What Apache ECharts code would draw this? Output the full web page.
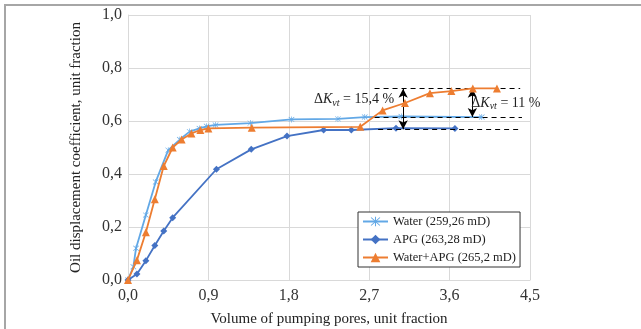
<!DOCTYPE html>
<html>
<head>
<meta charset="utf-8">
<script src="https://cdn.jsdelivr.net/npm/echarts@6/dist/echarts.min.js"></script>
<style>
  html, body { margin: 0; padding: 0; background: #fff; }
  #chart { width: 641px; height: 329px; }
</style>
</head>
<body>
<div id="chart"></div>
<script>
// --- data ---
const waterX = [0, 0.06, 0.09, 0.2, 0.31, 0.45, 0.58, 0.69, 0.8, 0.88, 0.98, 1.37, 1.83, 2.35, 2.65, 3.06, 3.96];
const waterY = [0, 0.05, 0.12, 0.245, 0.37, 0.49, 0.53, 0.56, 0.572, 0.58, 0.585, 0.592, 0.606, 0.608, 0.615, 0.617, 0.615];

const apgX = [0, 0.1, 0.2, 0.3, 0.4, 0.5, 0.99, 1.38, 1.78, 2.19, 2.5, 3.0, 3.66];
const apgY = [0, 0.023, 0.073, 0.13, 0.185, 0.235, 0.418, 0.493, 0.543, 0.566, 0.566, 0.573, 0.572];

const mixX = [0, 0.1, 0.2, 0.3, 0.4, 0.5, 0.6, 0.71, 0.81, 0.9, 1.385, 2.6, 2.85, 3.1, 3.38, 3.62, 3.86, 4.13];
const mixY = [0, 0.075, 0.18, 0.305, 0.43, 0.5, 0.53, 0.553, 0.566, 0.572, 0.575, 0.578, 0.64, 0.668, 0.705, 0.713, 0.723, 0.723];

const seriesNames = ['Water (259,26 mD)', 'APG (263,28 mD)', 'Water+APG (265,2 mD)'];

// annotation levels (orange max, water end, APG end) and where they are drawn
const levels = [0.722, 0.615, 0.569];
const levelFrom = [2.76, 2.76, 2.8];
const levelTo = [4.39, 4.41, 4.41];
const arrowX = [3.08, 3.855];
const deltaTexts = ['15,4 %', '11 %'];
const deltaPos = [[2.53, 0.68], [4.23, 0.668]];

const zip = (xs, ys) => xs.map((x, i) => [x, ys[i]]);
const comma = (v, d) => v.toFixed(d).replace('.', ',');

const serif = 'Liberation Serif, Times New Roman, serif';
const starPath = 'path://M9,0L11,0L11,20L9,20Z M1,2.4L2.4,1L19,17.6L17.6,19Z M17.6,1L19,2.4L2.4,19L1,17.6Z';

const dashed = (i) => [
  { coord: [levelFrom[i], levels[i]], symbol: 'none', lineStyle: { type: [5, 4], color: '#000', width: 1.2 } },
  { coord: [levelTo[i], levels[i]], symbol: 'none' }
];
const arrow = (x, yTop, yBot) => [
  { coord: [x, yTop], symbol: 'arrow', symbolSize: [7, 9], lineStyle: { type: 'solid', color: '#000', width: 1 } },
  { coord: [x, yBot], symbol: 'arrow', symbolSize: [7, 9] }
];

const richDelta = {
  a: { fontFamily: serif, fontSize: 14, color: '#222' },
  k: { fontFamily: serif, fontSize: 14, fontStyle: 'italic', color: '#222' },
  s: { fontFamily: serif, fontSize: 10, fontStyle: 'italic', color: '#222', padding: [7, 0, 0, 0] }
};

const chart = echarts.init(document.getElementById('chart'));

chart.setOption({
  animation: false,
  backgroundColor: '#fff',
  grid: { left: 128, right: 111, top: 15, bottom: 49, outerBoundsMode: 'none', containLabel: false },
  legend: {
    orient: 'vertical',
    left: 358,
    top: 212,
    itemWidth: 25,
    itemHeight: 12,
    itemGap: 5,
    padding: [3, 4, 3, 4],
    borderColor: '#333',
    borderWidth: 1,
    backgroundColor: '#fff',
    textStyle: { fontFamily: serif, fontSize: 12.5, color: '#222' },
    data: seriesNames
  },
  xAxis: {
    type: 'value',
    min: 0,
    max: 4.5,
    interval: 0.9,
    name: 'Volume of pumping pores, unit fraction',
    nameLocation: 'middle',
    nameGap: 32,
    nameTextStyle: { fontFamily: serif, fontSize: 15, color: '#222' },
    axisLine: { lineStyle: { color: '#d9d9d9' } },
    axisTick: { show: false },
    axisLabel: { fontFamily: serif, fontSize: 16, color: '#333', margin: 8, formatter: (v) => comma(v, 1) },
    splitLine: { lineStyle: { color: '#d9d9d9' } }
  },
  yAxis: {
    type: 'value',
    min: 0,
    max: 1,
    interval: 0.2,
    name: 'Oil displacement coefficient, unit fraction',
    nameLocation: 'middle',
    nameGap: 44,
    nameTextStyle: { fontFamily: serif, fontSize: 15, color: '#222' },
    axisLine: { show: true, lineStyle: { color: '#d9d9d9' } },
    axisTick: { show: false },
    axisLabel: { fontFamily: serif, fontSize: 16, color: '#333', margin: 6, formatter: (v) => comma(v, 1) },
    splitLine: { lineStyle: { color: '#d9d9d9' } }
  },
  series: [
    {
      name: seriesNames[0],
      type: 'line',
      data: zip(waterX, waterY),
      symbol: starPath,
      symbolSize: 6,
      color: '#62a8e6',
      lineStyle: { width: 1.8, color: '#62a8e6' },
      z: 3
    },
    {
      name: seriesNames[1],
      type: 'line',
      data: zip(apgX, apgY),
      symbol: 'diamond',
      symbolSize: 7,
      color: '#4472c4',
      lineStyle: { width: 1.8, color: '#4472c4' },
      z: 4
    },
    {
      name: seriesNames[2],
      type: 'line',
      data: zip(mixX, mixY),
      symbol: 'triangle',
      symbolSize: 8,
      color: '#ed7d31',
      lineStyle: { width: 1.8, color: '#ed7d31' },
      z: 5,
      markLine: {
        silent: true,
        animation: false,
        label: { show: false },
        data: [
          dashed(0),
          dashed(1),
          dashed(2),
          arrow(arrowX[0], levels[0], levels[2]),
          arrow(arrowX[1], levels[0], levels[1])
        ]
      },
      markPoint: {
        silent: true,
        animation: false,
        symbol: 'circle',
        symbolSize: 1,
        itemStyle: { color: 'rgba(0,0,0,0)' },
        label: {
          show: true,
          position: 'inside',
          rich: richDelta
        },
        data: deltaPos.map((p, i) => ({
          coord: p,
          label: { formatter: '{a|Δ}{k|K}{s|vt}{a| = ' + deltaTexts[i] + '}' }
        }))
      }
    }
  ],
  graphic: [
    { type: 'rect', shape: { x: 4, y: 4, width: 637, height: 2 }, style: { fill: '#a6a6a6' }, silent: true },
    { type: 'rect', shape: { x: 4, y: 4, width: 2, height: 325 }, style: { fill: '#a6a6a6' }, silent: true }
  ]
});
</script>
</body>
</html>
